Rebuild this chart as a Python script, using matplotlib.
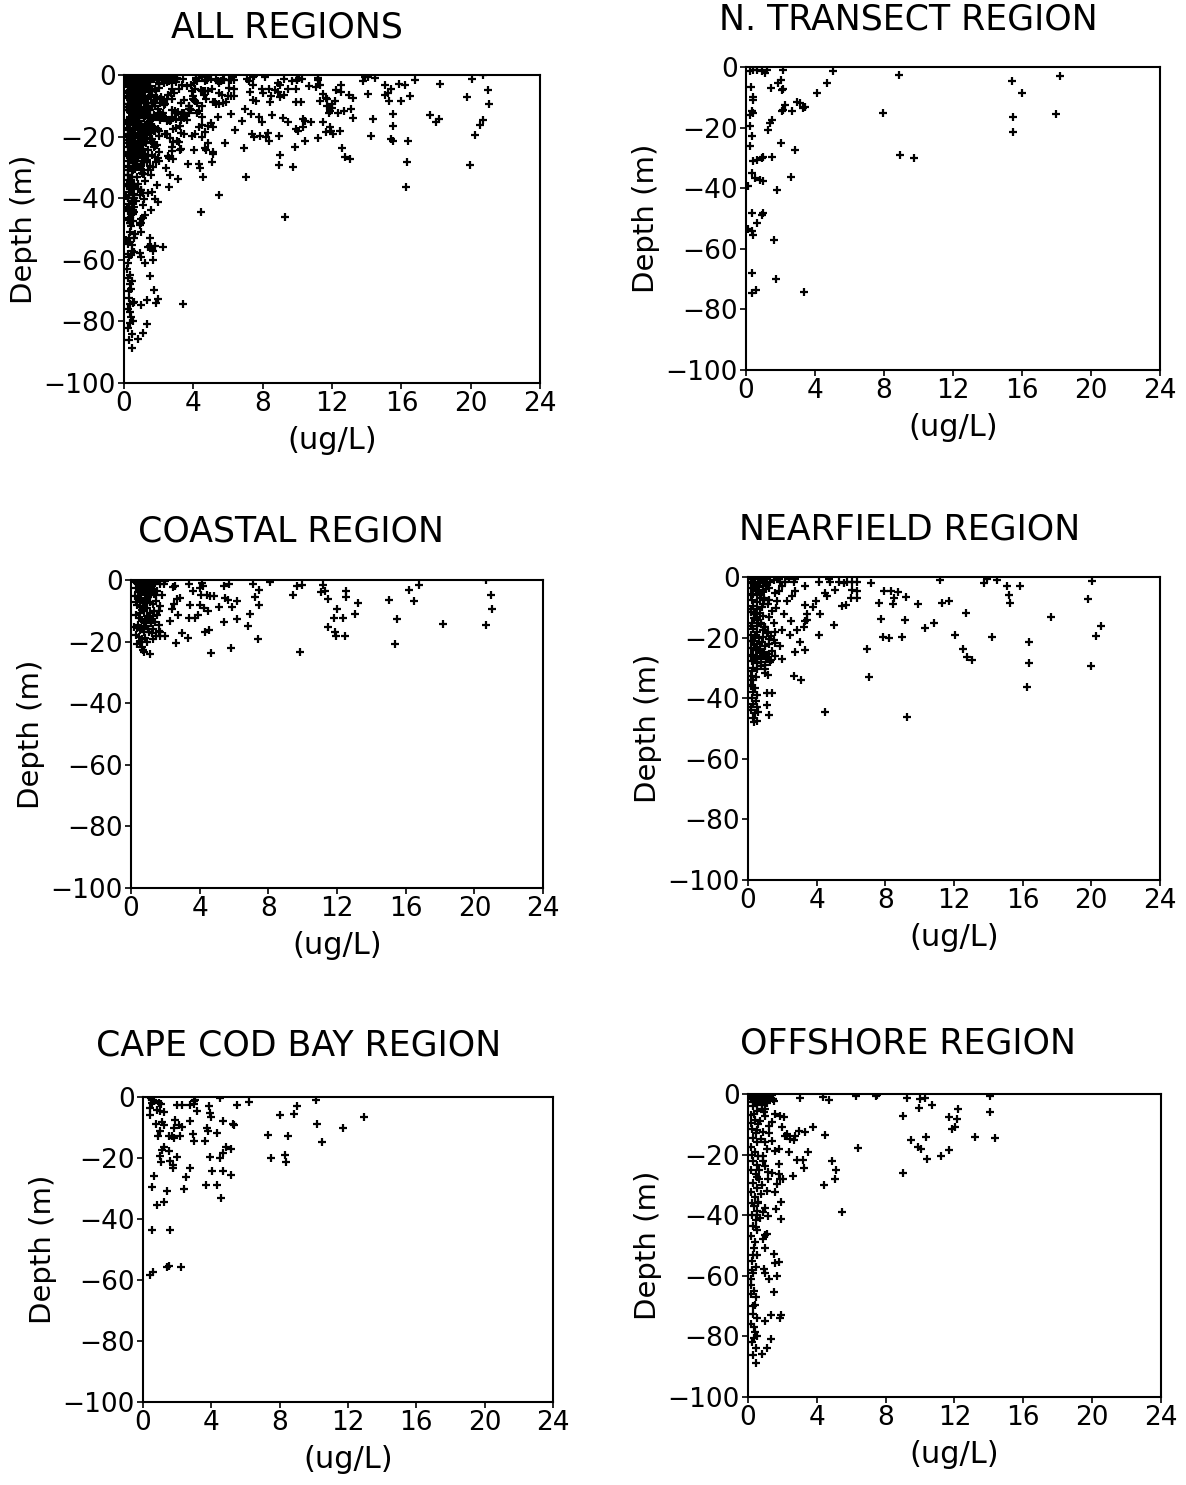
import matplotlib.pyplot as plt

###############################################################################
# chlorophyll vs depth, by region
###############################################################################

# N. transect region
nt_conc = [0.23, 0.43, 0.62, 0.91, 1.1, 1.2, 2.17, 5.03, 8.88, 15.4, 18.2, 16.0, 18.0,
           15.5, 15.5, 7.97, 8.94, 9.77, 4.68, 4.1, 2.03, 1.84, 1.45, 2.15, 2.1, 0.27,
           0.39, 0.39, 0.33, 0.43, 0.23, 2.26, 2.17, 2.07, 2.94, 3.14, 3.33, 3.43, 2.69,
           1.49, 1.39, 1.3, 0.23, 0.33, 0.23, 2.01, 2.85, 0.43, 0.62, 0.91, 1.0, 1.49,
           0.33, 0.52, 0.81, 1.0, 2.59, 0.14, 1.78, 0.33, 0.91, 1.0, 0.62, 0.14, 0.33,
           0.43, 1.65, 0.37, 1.72, 0.33, 0.58, 3.39]
nt_depth = [-1.4, -1.1, -0.9, -1.4, -2.0, -0.9, -1.1, -1.4, -2.5, -4.5, -2.9, -8.4, -15.4,
            -16.6, -21.3, -15.2, -29.1, -29.9, -5.3, -8.4, -4.2, -5.1, -6.9, -7.3, -7.7, -6.7,
            -9.7, -10.8, -14.6, -15.2, -15.7, -12.4, -14.1, -14.6, -11.6, -11.9, -13.5, -13.0, -14.6,
            -17.4, -18.5, -20.7, -19.6, -22.9, -26.2, -25.1, -27.3, -31.1, -30.5, -30.0, -29.7, -29.7,
            -34.9, -36.6, -37.1, -37.5, -36.4, -39.3, -40.4, -48.1, -48.7, -48.1, -51.6, -53.6, -54.2,
            -55.3, -57.1, -67.9, -69.8, -74.5, -73.6, -74.3]

# coastal region
co_conc = [20.7, 20.97, 21.03, 20.7, 18.17, 16.8, 16.2, 16.5, 15.05, 15.5, 15.4, 13.2,
           13.07, 12.54, 12.54, 12.0, 11.85, 12.35, 11.46, 11.9, 11.96, 12.45, 11.18, 11.07,
           11.32, 11.46, 9.67, 9.96, 9.44, 9.86, 8.12, 7.4, 7.11, 7.44, 7.24, 7.44, 6.95,
           6.8, 6.17, 5.88, 6.17, 5.4, 5.7, 5.5, 5.63, 5.15, 5.4, 5.84, 4.68, 4.85, 4.58,
           4.43, 4.08, 4.13, 4.19, 4.04, 4.04, 4.23, 4.47, 3.88, 3.75, 4.33, 4.52, 3.4,
           3.61, 3.46, 3.36, 2.97, 3.3, 2.64, 2.58, 2.45, 2.87, 2.68, 2.49, 2.39, 2.74,
           2.25, 2.0, 1.9, 1.8, 1.71, 1.61, 1.71,
           0.25, 0.35, 0.45, 0.54, 0.64, 0.74, 0.83, 0.93, 1.03, 1.13, 1.22, 1.32, 0.31,
           0.45, 0.58, 0.70, 0.83, 0.97, 1.13, 1.32, 1.51, 0.25, 0.39, 0.54, 0.70, 0.89,
           1.09, 1.28, 1.48, 0.35, 0.50, 0.64, 0.78, 0.93, 1.13, 1.36, 1.51, 0.31, 0.47,
           0.62, 0.74, 0.97, 1.17, 1.40, 1.63, 0.19, 0.35, 0.54, 0.74, 0.97, 1.22, 1.48,
           1.71, 0.45, 0.64, 0.82, 0.35, 0.64, 0.74, 1.09, 0.70,
           0.3, 0.5, 0.7, 0.9, 1.1, 1.4, 1.7, 2.0, 0.4, 0.6, 0.8, 1.0, 1.2, 1.45, 0.3,
           0.5, 0.7, 0.9, 1.1, 1.3, 0.4, 0.6, 0.85, 1.05, 1.3, 0.3, 0.55, 0.9, 1.25, 1.6]
co_depth = [-0.1, -4.9, -9.3, -14.6, -14.2, -1.6, -3.1, -6.9, -6.4, -12.7, -20.8, -7.4,
            -11.1, -3.4, -5.6, -9.3, -12.4, -12.4, -15.4, -16.8, -18.2, -18.2, -1.6, -3.8,
            -3.4, -6.2, -2.0, -1.6, -4.7, -23.3, -0.5, -19.2, -1.2, -3.1, -5.5, -8.2, -11.1,
            -14.8, -6.9, -8.7, -12.6, -2.0, -1.4, -5.8, -6.4, -8.8, -13.7, -22.0, -23.7, -5.3, -5.3,
            -4.9, -4.7, -0.9, -2.0, -2.5, -8.0, -9.1, -10.2, -11.3, -12.4, -16.8, -16.2, -1.2,
            -3.6, -8.2, -12.4, -17.3, -18.7, -20.4, -2.0, -2.3, -5.8, -6.0, -7.8, -9.3, -11.3,
            -13.3, -18.1, -1.4, -4.7, -8.5, -10.2, -16.8,
            -0.3, -0.9, -0.3, -1.4, -0.5, -1.2, -0.3, -0.9, -1.6, -0.5, -2.0, -1.2, -2.5,
            -3.1, -3.6, -2.7, -4.2, -3.4, -4.7, -4.5, -3.6, -5.3, -5.8, -6.4, -6.9, -6.0,
            -7.1, -7.8, -6.7, -8.0, -8.9, -9.6, -10.2, -9.1, -10.7, -10.0, -11.3, -11.3, -12.2,
            -12.9, -13.7, -12.4, -14.0, -13.5, -14.6, -15.1, -15.7, -16.2, -16.8, -15.9, -17.3, -18.1,
            -18.3, -18.4, -19.2, -18.7, -20.9, -21.7, -23.5, -23.9, -22.8,
            -0.6, -1.8, -0.4, -2.2, -1.0, -0.5, -1.3, -0.4, -3.8, -5.0, -7.5, -5.5, -3.0, -5.0, -7.0,
            -10.8, -8.4, -11.8, -13.0, -11.8, -14.5, -15.5, -14.8, -17.0, -16.0, -17.8, -20.0, -20.2, -19.0, -16.5]

# nearfield region
nf_conc = [20.06, 19.79, 20.55, 20.27, 19.98, 16.38, 16.34, 16.28, 17.66, 15.85, 15.08,
           15.21, 15.27, 13.76, 13.91, 14.49, 14.24, 12.69, 12.55, 12.75, 13.04, 12.03,
           11.2, 11.29, 11.68, 10.81, 10.32, 9.9, 9.22, 9.16, 8.96, 9.29, 7.95, 8.34, 8.73,
           8.48, 8.42, 7.61, 7.76, 7.84, 8.19, 7.18, 6.93, 7.06, 5.76, 6.05, 6.34, 5.57,
           5.28, 6.05, 6.34, 6.01, 6.34, 5.7, 5.47, 4.73, 4.79, 4.15, 5.05, 4.5, 4.6, 3.96,
           3.76, 4.21, 4.99, 4.11, 4.46, 3.34, 3.3, 3.43, 3.43, 3.3, 3.24, 2.85, 3.05, 3.3,
           2.76, 2.66, 3.1, 2.76, 2.66, 2.17, 1.88, 2.76, 2.56, 2.27, 1.79, 1.59, 1.63, 2.08,
           2.52, 2.47, 1.98, 1.98, 1.88, 1.59, 1.49, 1.2, 1.4, 1.55, 1.3, 1.11, 1.4, 1.11,
           1.2, 1.01, 1.16,
           0.2, 0.4, 0.6, 0.8, 1.0, 0.3, 0.5, 0.7, 0.9, 1.1, 1.3, 1.5, 0.2, 0.45, 0.65, 0.85,
           1.05, 0.3, 0.55, 0.75, 0.95, 0.25, 0.5, 0.7, 0.9, 1.2, 0.3, 0.55, 0.8, 0.2, 0.45,
           0.7, 0.35, 0.6, 0.9, 0.25, 0.5, 0.75, 1.0, 0.3, 0.55, 0.85, 1.1, 0.2, 0.4, 0.65,
           0.9, 1.2, 0.3, 0.55, 0.8, 1.0, 0.2, 0.45, 0.7, 0.95, 1.2, 0.3, 0.55, 0.8, 1.05,
           0.25, 0.5, 0.75, 1.0, 0.3, 0.55, 0.2, 0.45, 0.3, 0.2, 0.4, 0.3, 0.5, 0.25, 0.45,
           0.3, 0.55, 0.2, 0.4, 0.6, 0.3, 0.5, 0.35,
           0.15, 0.35, 0.55, 0.75, 0.95, 1.15, 0.15, 0.35, 0.55, 0.75, 0.95, 1.15, 1.35, 0.15,
           0.35, 0.6, 0.85, 1.1, 1.35, 0.5, 0.75, 1.0, 0.25, 1.4, 1.6, 1.25, 1.5, 1.7, 2.0,
           2.4, 1.8, 1.2, 0.9, 0.6, 0.3, 0.15, 0.15, 0.15, 0.15, 0.15]
nf_depth = [-1.2, -7.3, -16.3, -19.4, -29.2, -21.3, -28.2, -36.3, -13.1, -2.9, -3.1,
            -5.8, -8.6, -2.0, -0.6, -0.9, -19.9, -11.7, -23.7, -26.5, -27.3, -19.1,
            -0.9, -8.4, -7.8, -15.2, -16.9, -8.8, -6.5, -14.1, -19.8, -46.1, -4.7, -4.7, -5.0,
            -6.9, -8.8, -8.6, -13.8, -19.8, -20.2, -2.0, -23.7, -33.1, -1.7, -1.7, -1.7, -2.0,
            -1.7, -4.2, -4.5, -6.9, -6.9, -9.1, -9.4, -0.6, -1.7, -1.7, -4.4, -5.3, -6.4, -7.8,
            -10.0, -12.2, -15.7, -19.1, -44.4, -3.1, -9.1, -12.2, -14.1, -14.6, -16.6, -17.4, -21.3, -24.0,
            -24.6, -32.5, -33.9, -0.6, -1.7, -1.7, -1.7, -4.7, -6.4, -8.0, -4.7, -5.3, -10.2, -12.2,
            -14.6, -19.1, -17.4, -27.0, -22.6, -21.8, -20.7, -13.3, -11.1, -18.2, -28.1, -38.3, -38.3, -42.2,
            -45.5, -31.7, -32.3,
            -0.5, -0.8, -0.4, -1.0, -0.6, -2.0, -2.5, -1.8, -2.8, -2.2, -1.5, -1.0, -3.5, -4.0, -3.2, -4.5,
            -3.8, -5.5, -6.0, -5.2, -6.8, -7.5, -8.2, -7.0, -8.8, -7.6, -9.5, -10.5, -9.8, -11.5, -12.3,
            -11.8, -13.5, -14.2, -13.0, -15.0, -16.0, -15.5, -16.5, -17.2, -18.0, -17.6, -18.3, -19.0, -19.6, -20.2,
            -19.8, -20.5, -21.0, -22.0, -21.5, -22.8, -23.5, -24.2, -23.8, -24.8, -25.5, -25.8, -26.5, -26.2, -27.0,
            -27.8, -28.5, -28.0, -29.0, -30.0, -30.5, -32.5, -33.0, -34.0, -35.5, -36.5, -38.0, -39.0, -40.0, -41.0,
            -42.0, -43.0, -44.0, -45.0, -44.5, -46.5, -47.5, -48.0,
            -1.5, -3.0, -4.5, -6.0, -7.5, -9.0, -10.5, -12.0, -13.5, -15.0, -16.5, -18.0, -19.5, -21.0,
            -22.5, -24.0, -25.5, -26.5, -27.5, -27.0, -29.5, -30.5, -31.0, -24.5, -26.0, -22.0, -15.0, -8.0, -3.0,
            -0.8, -0.5, -3.5, -1.5, -0.3, -0.2, -6.0, -16.0, -26.0, -36.0, -43.0]

# Cape Cod Bay region
cc_conc = [0.33, 0.47, 0.58, 0.62, 0.53, 0.39, 0.43, 0.82, 1.01, 1.21, 0.92, 1.05,
           0.78, 1.11, 1.25, 0.97, 0.9, 1.5, 1.7, 1.83, 2.18, 1.89, 2.08, 1.79, 2.28,
           1.99, 2.28, 2.77, 2.96, 3.06, 3.0, 3.16, 2.77, 2.92, 3.0, 3.64, 3.84, 3.93,
           3.97, 3.74, 3.78, 4.32, 4.48, 4.71, 5.26, 5.3, 4.87, 5.14, 4.68, 3.9, 4.48,
           4.03, 4.71, 5.14, 3.7, 4.32, 4.58, 5.49, 6.18, 7.31, 7.5, 8.03, 8.51, 8.32,
           8.36, 8.86, 9.0, 10.11, 10.21, 10.46, 11.69, 12.96, 1.21, 1.11, 0.97, 1.05,
           1.5, 1.6, 1.75, 1.75, 1.99, 0.66, 0.53, 1.4, 0.82, 1.21, 2.77, 2.53, 2.42,
           0.53, 1.56, 0.39, 0.57, 1.4, 1.5, 2.24]
cc_depth = [-0.1, -0.5, -0.9, -1.4, -2.0, -3.6, -5.8, -4.4, -4.7, -4.9, -2.0, -2.3,
            -8.9, -8.2, -9.1, -11.3, -12.9, -12.9, -12.9, -13.4, -12.9, -7.4, -9.1, -10.2, -9.9,
            -2.7, -2.5, -2.7, -1.4, -0.9, -2.3, -4.7, -7.8, -12.3, -14.3, -14.5, -3.1, -5.2,
            -6.7, -10.2, -11.0, -11.8, -0.3, -7.8, -8.9, -9.3, -16.5, -16.9, -18.4, -19.7, -20.0,
            -24.4, -24.2, -25.7, -29.0, -29.0, -33.1, -2.7, -1.6, -12.6, -20.0, -6.0, -12.9, -18.9,
            -21.4, -5.6, -3.1, -1.1, -8.9, -14.9, -10.2, -6.6, -16.5, -17.3, -19.5, -21.3,
            -17.6, -20.9, -22.4, -23.3, -19.8, -25.8, -29.5, -30.7, -35.5, -34.4, -23.3, -26.3, -30.2,
            -43.7, -43.7, -58.3, -57.4, -55.7, -55.5, -55.7]

# offshore region
of_conc = [14.09, 14.09, 14.34, 13.18, 12.21, 12.17, 11.67, 12.02, 11.88, 10.67, 10.28,
           9.99, 9.93, 9.22, 9.02, 9.47, 9.89, 10.05, 10.34, 10.41, 11.19, 11.67, 8.99,
           7.42, 7.48, 6.28, 6.42, 5.45, 4.33, 4.68, 3.03, 1.45, 3.77, 4.48, 3.32, 2.97,
           2.74, 2.65, 2.45, 2.26, 2.16, 1.97, 3.48, 3.17, 2.84, 3.23, 2.59, 2.36, 4.87,
           5.12, 5.06, 4.39, 2.12, 1.87, 1.58, 1.39, 1.0, 0.91, 0.81, 1.78, 1.58, 1.39,
           1.0, 1.1, 0.85, 1.78, 1.87, 1.68, 1.58, 1.78, 2.01, 1.39, 1.16, 1.0, 1.16,
           1.91, 1.93, 1.62, 1.16, 1.0, 1.1, 0.97, 1.0, 1.49, 1.78, 1.58, 0.91, 1.0, 1.2,
           1.68, 1.49, 1.35, 1.93, 1.84, 0.97, 1.33, 1.1, 0.81, 0.46,
           0.1, 0.3, 0.5, 0.7, 0.9, 1.1, 1.3, 0.2, 0.4, 0.6, 0.8, 1.0, 0.3, 0.15, 0.55,
           0.3, 0.5, 0.2, 0.4, 0.6, 0.25, 0.45, 0.3, 0.55, 0.2, 0.4, 0.6, 0.3, 0.5, 0.2,
           0.45, 0.65, 0.3, 0.5, 0.2, 0.4, 0.6, 0.35, 0.55, 0.25, 0.45, 0.3, 0.5, 0.2, 0.4,
           0.35, 0.55, 0.25, 0.45, 0.3, 0.2, 0.15, 0.35, 0.45, 0.4, 0.3, 0.5, 0.2, 0.4,
           0.35, 0.25, 0.45, 0.3,
           0.8, 1.0, 0.7, 1.2, 0.9, 0.75, 1.2, 0.9, 0.65, 0.8, 1.1, 0.75, 0.6, 0.9, 0.7, 0.9,
           0.2, 0.4, 0.6, 0.8, 1.0, 1.2, 1.4, 0.9, 0.5, 1.1, 1.5, 0.35, 0.2, 0.5, 0.25, 0.5,
           0.25, 0.45, 0.3, 0.25, 0.3, 0.35, 0.5, 0.2, 0.55]
of_depth = [-0.6, -6.1, -14.4, -14.1, -5.0, -8.3, -7.5, -10.8, -11.6, -3.6, -1.3,
            -1.7, -4.7, -1.4, -7.2, -15.2, -17.6, -18.2, -14.3, -21.5, -20.6, -18.4, -26.0,
            -0.8, -0.3, -0.8, -17.9, -38.9, -1.1, -1.9, -1.3, -1.7, -11.0, -13.5, -12.7, -12.3,
            -13.8, -15.1, -14.9, -13.2, -14.0, -11.0, -19.3, -21.7, -21.7, -24.5, -27.0, -19.1, -22.1,
            -25.0, -28.1, -30.1, -7.7, -7.2, -6.6, -9.2, -7.2, -6.1, -5.0, -18.2, -18.7, -15.4,
            -16.0, -18.2, -20.6, -23.2, -28.1, -29.8, -32.5, -26.5, -27.9, -26.2, -28.1, -23.9, -25.9,
            -35.8, -41.1, -38.0, -40.2, -37.5, -46.3, -46.6, -51.0, -52.9, -55.5, -55.7, -57.7, -59.0, -61.2,
            -60.1, -65.4, -73.1, -72.8, -73.9, -74.8, -80.8, -83.8, -85.8, -88.8,
            -0.3, -0.5, -0.2, -0.8, -0.4, -1.0, -0.6, -1.5, -2.0, -1.6, -2.2, -1.8, -2.8, -0.9, -1.1,
            -4.0, -5.5, -7.0, -8.5, -10.0, -11.5, -13.0, -14.5, -16.0, -17.5, -19.0, -20.5, -22.0, -23.5, -25.0,
            -26.5, -28.0, -29.5, -31.0, -32.5, -34.0, -35.5, -37.0, -38.5, -40.0, -41.5, -43.5, -45.0, -47.0, -49.0,
            -51.0, -53.0, -55.0, -57.0, -59.0, -61.0, -63.0, -65.0, -67.0, -69.5, -72.5, -74.0, -76.0, -78.5,
            -80.5, -82.0, -84.0, -86.0,
            -3.5, -5.0, -9.0, -10.5, -12.5, -15.0, -13.0, -22.0, -25.0, -30.0, -32.0, -33.0, -36.0, -39.0, -41.0, -48.0,
            -0.6, -1.2, -0.4, -1.4, -0.7, -1.5, -0.4, -2.5, -3.2, -3.0, -2.2, -6.5, -9.5, -12.0, -20.0, -27.5,
            -36.0, -44.0, -53.0, -58.0, -70.0, -77.0, -80.0, -66.0, -40.0]

# all regions = every sample together
all_conc = co_conc + nf_conc + cc_conc + of_conc + nt_conc
all_depth = co_depth + nf_depth + cc_depth + of_depth + nt_depth

titles = ['ALL REGIONS', 'N. TRANSECT REGION', 'COASTAL REGION',
          'NEARFIELD REGION', 'CAPE COD BAY REGION', 'OFFSHORE REGION']
conc_sets = [all_conc, nt_conc, co_conc, nf_conc, cc_conc, of_conc]
depth_sets = [all_depth, nt_depth, co_depth, nf_depth, cc_depth, of_depth]

# axes boxes (scanned page, panels not quite aligned)
boxes = [[0.1046, 0.7421, 0.3508, 0.2074],
         [0.6290, 0.7508, 0.3490, 0.2040],
         [0.1105, 0.4020, 0.3474, 0.2074],
         [0.6307, 0.4074, 0.3474, 0.2040],
         [0.1206, 0.0559, 0.3457, 0.2054],
         [0.6307, 0.0593, 0.3482, 0.2040]]
title_xy = [(287, 28), (908, 20), (291, 532), (910, 530), (299, 1046), (908, 1044)]

plt.rcParams['font.family'] = ['DejaVu Sans']

W, H = 1186, 1485
fig = plt.figure(figsize=(W / 100, H / 100), dpi=100)

for i in range(6):
    ax = fig.add_axes(boxes[i])
    ax.plot(conc_sets[i], depth_sets[i], linestyle='none', marker='+',
            color='black', markersize=5.5, markeredgewidth=1.6)
    ax.set_xlim(0, 24)
    ax.set_ylim(-100, 0)
    ax.set_xticks(range(0, 25, 4))
    ax.set_yticks(range(-100, 1, 20))
    ax.tick_params(direction='out', length=4, width=1.2, labelsize=19, pad=2)
    for s in ax.spines.values():
        s.set_linewidth(1.5)
    ax.set_xlabel('(ug/L)', fontsize=22, labelpad=6)
    ax.set_ylabel('Depth (m)', fontsize=21, labelpad=4)
    tx, ty = title_xy[i]
    fig.text(tx / W, 1 - ty / H, titles[i], fontsize=25, ha='center', va='center')

plt.savefig('out.png', dpi=100)
